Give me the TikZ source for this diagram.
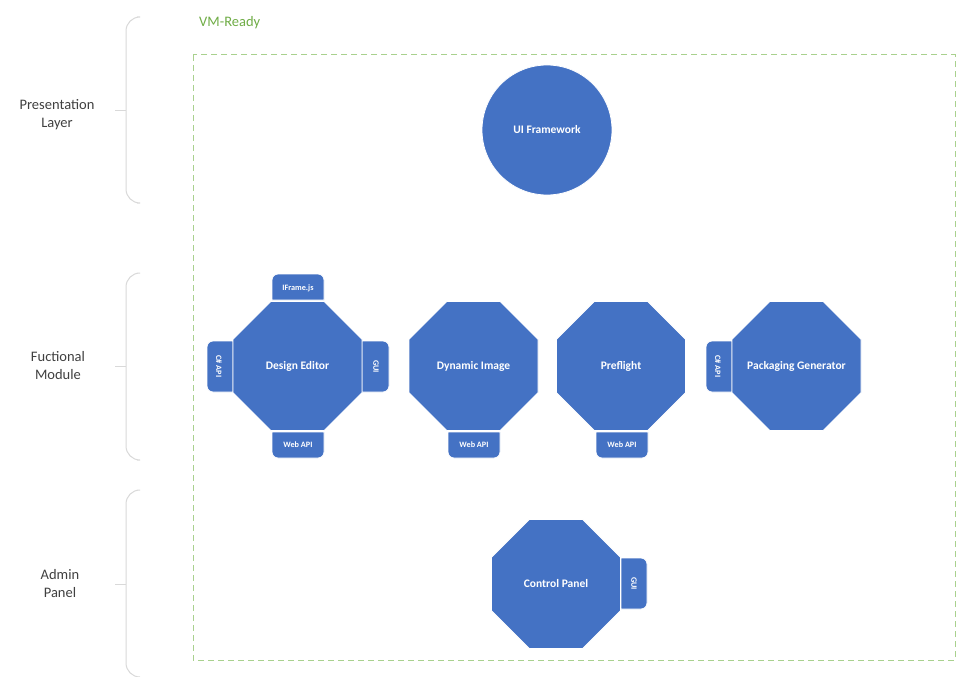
\documentclass[tikz,border=0pt]{standalone}
\usepackage{fontspec}
\setmainfont{Carlito}
\definecolor{mblue}{HTML}{4472C4}
\definecolor{dgreen}{HTML}{A9D18E}
\definecolor{tgreen}{HTML}{70AD47}
\definecolor{bgray}{HTML}{D9D9D9}
\definecolor{ltext}{HTML}{404040}
\tikzset{
  octshape/.style={fill=mblue, draw=white, line width=0.8pt},
  octlbl/.style={text=white, font=\fontsize{11.5}{12}\selectfont\bfseries, inner sep=0pt},
  tabshape/.style={fill=mblue, draw=white, line width=0.8pt},
  tablbl/.style={text=white, font=\fontsize{8.2}{9}\selectfont\bfseries, inner sep=0pt},
  brk/.style={draw=bgray, line width=1pt, rounded corners=14pt},
  side/.style={text=ltext, align=center, font=\fontsize{14.5}{18}\selectfont}
}
% octagon: center x, y, label name, text
\newcommand{\myocta}[4]{%
  \draw[octshape] (#1-26.7,#2-64.5) -- (#1+26.7,#2-64.5) -- (#1+64.5,#2-26.7) -- (#1+64.5,#2+26.7)
    -- (#1+26.7,#2+64.5) -- (#1-26.7,#2+64.5) -- (#1-64.5,#2+26.7) -- (#1-64.5,#2-26.7) -- cycle;
  \node[octlbl] (#3) at (#1,#2) {#4};}
\begin{document}
\begin{tikzpicture}[x=1pt,y=-1pt]
\useasboundingbox (0,0) rectangle (975,677);
\fill[white] (0,0) rectangle (975,677);

% brackets
\draw[brk] (137,17) -- (126,17) -- (126,203) -- (137,203);
\draw[bgray, line width=1pt] (115,110) -- (126,110);
\draw[brk] (137,273) -- (126,273) -- (126,460) -- (137,460);
\draw[bgray, line width=1pt] (115,366) -- (126,366);
\draw[brk] (137,490) -- (126,490) -- (126,677) -- (137,677);
\draw[bgray, line width=1pt] (115,584) -- (126,584);

\node[side] (pres) at (57,115) {Presentation\\Layer};
\node[side] (func) at (58,366) {Fuctional\\Module};
\node[side] (admin) at (60,584) {Admin\\Panel};

% VM-Ready box
\draw[dgreen, line width=1pt, dash pattern=on 6pt off 4pt] (193,55) rectangle (955,660);
\node[text=tgreen, font=\fontsize{14.5}{16}\selectfont, anchor=west, inner sep=0pt] (vm) at (199,23) {VM-Ready};

% UI Framework
\node[circle, minimum size=130pt, inner sep=0pt, fill=mblue, draw=white, line width=0.8pt,
  text=white, font=\fontsize{11.5}{12}\selectfont\bfseries] (ui) at (547,130) {UI Framework};

% tabs (drawn first)
\draw[tabshape] (272,300) [rounded corners=6pt] -- (272,274) -- (324,274) [sharp corners] -- (324,300) -- cycle;
\draw[tabshape] (272,432) [rounded corners=6pt] -- (272,458) -- (324,458) [sharp corners] -- (324,432) -- cycle;
\draw[tabshape] (233,341) [rounded corners=6pt] -- (207,341) -- (207,392) [sharp corners] -- (233,392) -- cycle;
\draw[tabshape] (362,341) [rounded corners=6pt] -- (389,341) -- (389,392) [sharp corners] -- (362,392) -- cycle;
\draw[tabshape] (448,432) [rounded corners=6pt] -- (448,458) -- (500,458) [sharp corners] -- (500,432) -- cycle;
\draw[tabshape] (596,432) [rounded corners=6pt] -- (596,458) -- (648,458) [sharp corners] -- (648,432) -- cycle;
\draw[tabshape] (732,341) [rounded corners=6pt] -- (706,341) -- (706,392) [sharp corners] -- (732,392) -- cycle;
\draw[tabshape] (621,558) [rounded corners=6pt] -- (647,558) -- (647,609) [sharp corners] -- (621,609) -- cycle;

% octagons
\myocta{297.5}{366}{de}{Design Editor}
\myocta{473.5}{366}{di}{Dynamic Image}
\myocta{621}{366}{pf}{Preflight}
\myocta{796.5}{366}{pg}{Packaging Generator}
\myocta{556}{584}{cp}{Control Panel}

% tab labels
\node[tablbl] (deif) at (298,288) {IFrame.js};
\node[tablbl] (deweb) at (298,445) {Web API};
\node[tablbl, rotate=-90] (decs) at (219,366.5) {C\# API};
\node[tablbl, rotate=-90] (degui) at (376,366.5) {GUI};
\node[tablbl] (diweb) at (474,445) {Web API};
\node[tablbl] (pfweb) at (622,445) {Web API};
\node[tablbl, rotate=-90] (pgcs) at (718,366.5) {C\# API};
\node[tablbl, rotate=-90] (cpgui) at (634,583.5) {GUI};
\end{tikzpicture}
\end{document}
